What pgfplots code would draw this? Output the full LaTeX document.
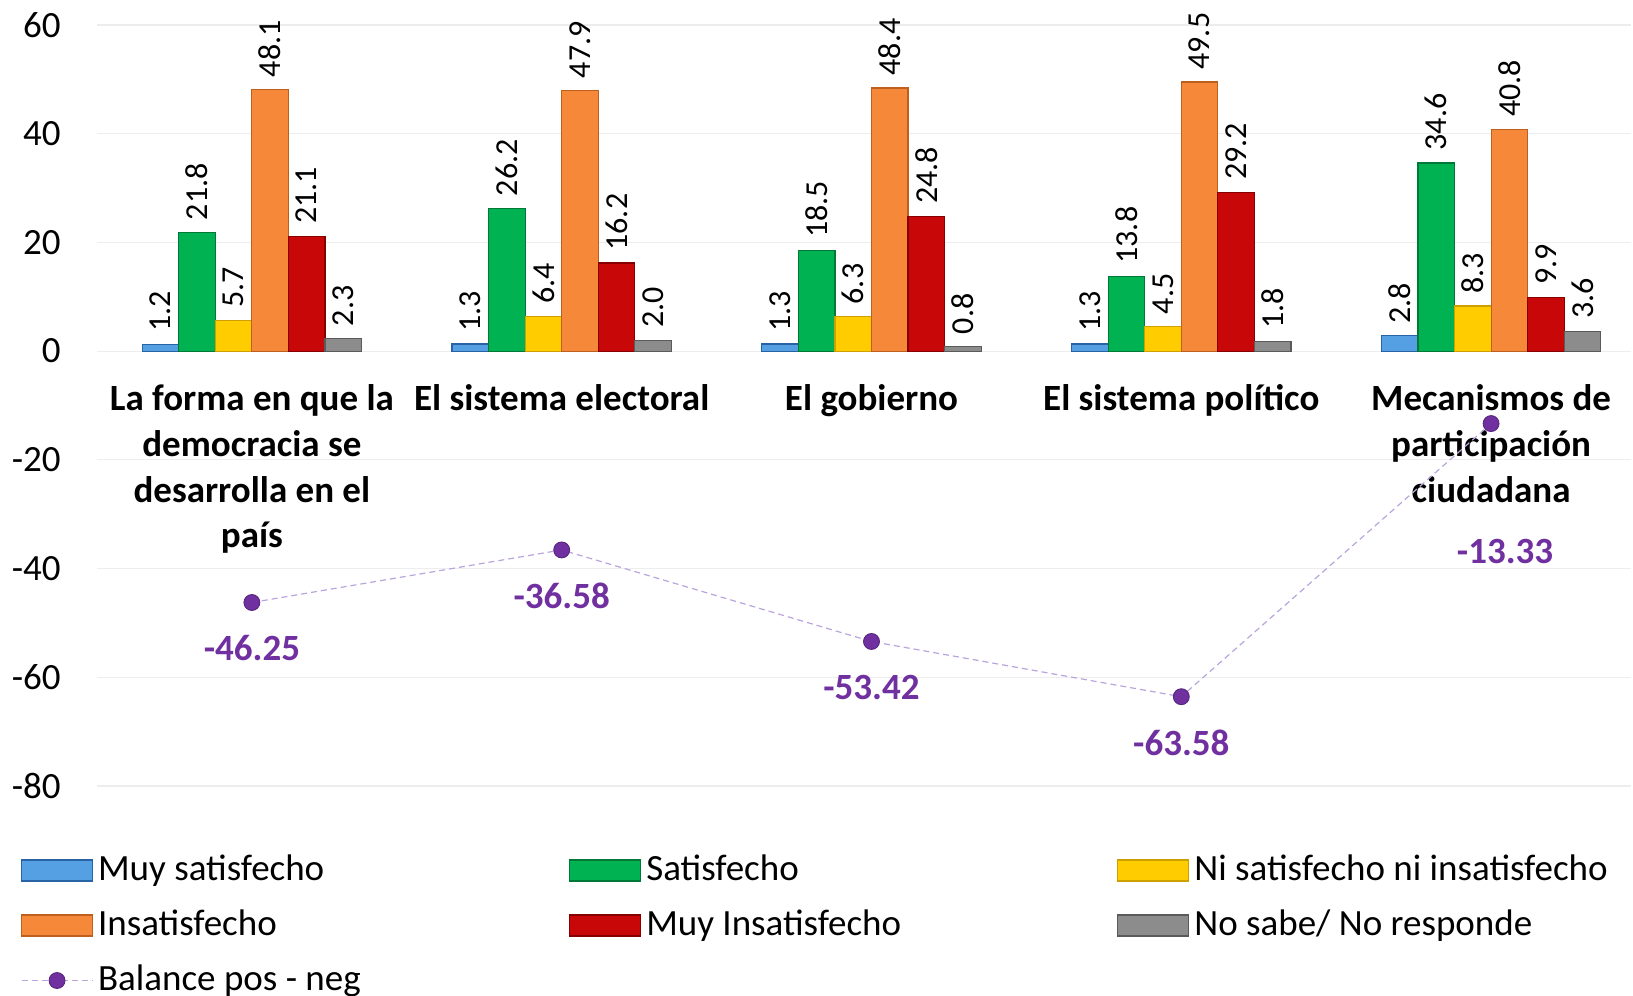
\documentclass[border=0pt]{standalone}
\usepackage{graphicx}
\usepackage{pgfplots}
\pgfplotsset{compat=1.18}
\usepackage{fontspec}
\setmainfont{Carlito}
\definecolor{cblue}{RGB}{84,160,226}
\definecolor{cblueD}{RGB}{40,100,165}
\definecolor{cgreen}{RGB}{0,178,82}
\definecolor{cgreenD}{RGB}{0,120,55}
\definecolor{cyellow}{RGB}{255,204,0}
\definecolor{cyellowD}{RGB}{205,160,0}
\definecolor{corange}{RGB}{246,136,57}
\definecolor{corangeD}{RGB}{190,95,30}
\definecolor{cred}{RGB}{200,8,8}
\definecolor{credD}{RGB}{135,0,0}
\definecolor{cgray}{RGB}{140,140,140}
\definecolor{cgrayD}{RGB}{90,90,90}
\definecolor{cpurple}{RGB}{112,48,160}
\definecolor{clinep}{RGB}{185,165,220}
\pgfplotsset{
  mybar/.style={ybar, bar width=0.118, bar shift=0pt, x filter/.expression={x+#1}, line width=0.6pt,
    nodes near coords={\rotatebox{90}{\pgfmathprintnumber[fixed,fixed zerofill,precision=1]{\pgfplotspointmeta}}},
    every node near coord/.append style={anchor=south, inner ysep=6pt, inner xsep=0pt,
      font=\fontsize{16}{16}\selectfont, text=black},
    legend image code/.code={\draw[##1] (0pt,-5.25pt) rectangle (35.5pt,5.25pt);}},
  balleg/.style={legend image code/.code={\draw[mark repeat=2,mark phase=2,##1] plot coordinates {(0pt,0pt) (17.75pt,0pt) (35.5pt,0pt)};}},
}
\begin{document}
\begin{tikzpicture}
\begin{axis}[
  scale only axis,
  width=766.8pt, height=380.5pt,
  xmin=-0.5, xmax=4.45,
  ymin=-80, ymax=60,
  ytick={-80,-60,-40,-20,0,20,40,60},
  xtick={0,1,2,3,4},
  xticklabels={{La forma en que la\\democracia se\\desarrolla en el\\país},{El sistema electoral},{El gobierno},{El sistema político},{Mecanismos de\\participación\\ciudadana}},
  axis line style={draw=none},
  major tick length=0pt,
  ymajorgrids, grid style={black!7, line width=0.6pt},
  /pgf/number format/assume math mode=true,
  tick label style={font=\fontsize{18.5}{22}\selectfont},
  yticklabel style={inner sep=0pt, xshift=-18pt},
  xticklabel style={font=\fontsize{18.5}{22.9}\selectfont\bfseries, align=center, inner sep=0pt, yshift=200.9pt},
  clip=false,
  legend columns=3,
  legend cell align=left,
  legend style={at={(-0.0496,-0.0875)}, anchor=north west, draw=none, fill=none,
    inner sep=0pt, outer sep=0pt, row sep=9.5pt, column sep=0pt,
    nodes={inner xsep=2.5pt, inner ysep=0pt, text height=14pt, text depth=4pt,
      text width=233pt, align=flush left, font=\fontsize{18.5}{18.5}\selectfont}},
]
\addplot[mybar=-0.295, fill=cblue, draw=cblueD] coordinates {(0,1.2)(1,1.3)(2,1.3)(3,1.3)(4,2.8)};
\addplot[mybar=-0.177, fill=cgreen, draw=cgreenD] coordinates {(0,21.8)(1,26.2)(2,18.5)(3,13.8)(4,34.6)};
\addplot[mybar=-0.059, fill=cyellow, draw=cyellowD] coordinates {(0,5.7)(1,6.4)(2,6.3)(3,4.5)(4,8.3)};
\addplot[mybar=0.059, fill=corange, draw=corangeD] coordinates {(0,48.1)(1,47.9)(2,48.4)(3,49.5)(4,40.8)};
\addplot[mybar=0.177, fill=cred, draw=credD] coordinates {(0,21.1)(1,16.2)(2,24.8)(3,29.2)(4,9.9)};
\addplot[mybar=0.295, fill=cgray, draw=cgrayD] coordinates {(0,2.3)(1,2.0)(2,0.8)(3,1.8)(4,3.6)};
\addplot[sharp plot, color=clinep, line width=0.6pt, dash pattern=on 3pt off 2pt,
  mark=*, mark size=4pt, mark options={solid, fill=cpurple, draw=cpurple!75!black, line width=0.4pt},
  balleg]
  coordinates {(0,-46.25)(1,-36.58)(2,-53.42)(3,-63.58)(4,-13.33)};
\addplot[forget plot, draw=none, mark=none,
  nodes near coords={\pgfmathprintnumber[fixed,fixed zerofill,precision=2]{\pgfplotspointmeta}},
  every node near coord/.append style={anchor=center, yshift=-23pt, font=\fontsize{18.5}{18.5}\selectfont\bfseries, text=cpurple}]
  coordinates {(0,-46.25)(1,-36.58)(2,-53.42)(3,-63.58)};
\addplot[forget plot, draw=none, mark=none,
  nodes near coords={\pgfmathprintnumber[fixed,fixed zerofill,precision=2]{\pgfplotspointmeta}},
  every node near coord/.append style={anchor=center, xshift=7pt, yshift=-64pt, font=\fontsize{18.5}{18.5}\selectfont\bfseries, text=cpurple}]
  coordinates {(4,-13.33)};
\legend{Muy satisfecho, Satisfecho, Ni satisfecho ni insatisfecho, Insatisfecho, Muy Insatisfecho, No sabe/ No responde, Balance pos - neg}
\coordinate (SW) at (rel axis cs:0,0);
\coordinate (NE) at (rel axis cs:1,1);
\end{axis}
\pgfresetboundingbox
\path ([shift={(-48.5pt,-105pt)}]SW) rectangle ([shift={(1.25pt,12.5pt)}]NE);
\end{tikzpicture}
\end{document}
